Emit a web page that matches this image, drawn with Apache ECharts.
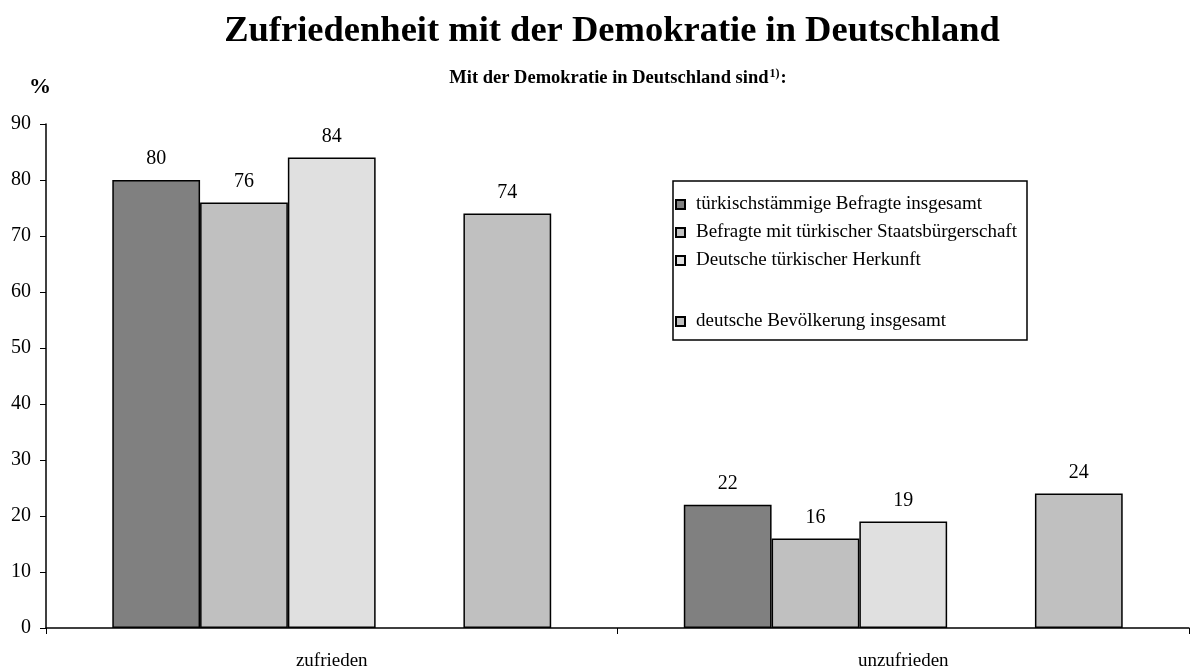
<!doctype html>
<html>
<head>
<meta charset="utf-8">
<title>Zufriedenheit mit der Demokratie</title>
<script src="https://cdn.jsdelivr.net/npm/echarts@6/dist/echarts.min.js"></script>
<style>
  html, body { margin: 0; padding: 0; background: #fff; }
  #main { width: 1191px; height: 668px; }
</style>
</head>
<body>
<div id="main"></div>
<script type="text/javascript">
// Daten
var categories = ['zufrieden', 'unzufrieden'];
var seriesNames = ['türkischstämmige Befragte insgesamt', 'Befragte mit türkischer Staatsbürgerschaft', 'Deutsche türkischer Herkunft', ' ', 'deutsche Bevölkerung insgesamt'];
var turkGesamt = [80, 22];
var turkStaat = [76, 16];
var deutschTurk = [84, 19];
var leer = ['-', '-'];
var deutschGesamt = [74, 24];
var yTicks = [0, 10, 20, 30, 40, 50, 60, 70, 80, 90];

var colors = ['#808080', '#c0c0c0', '#e0e0e0', '#ffffff', '#c0c0c0'];
var values = [turkGesamt, turkStaat, deutschTurk, leer, deutschGesamt];
var serif = '"Liberation Serif", "DejaVu Serif", serif';

var myChart = echarts.init(document.getElementById('main'));

var series = [];
for (var i = 0; i < values.length; i++) {
    series.push({
        name: seriesNames[i],
        type: 'bar',
        data: values[i],
        barGap: '0%',
        barCategoryGap: '23.2%',
        itemStyle: { color: colors[i], borderColor: '#000', borderWidth: 1.5 },
        label: {
            show: true,
            position: 'top',
            distance: 11,
            color: '#000',
            fontFamily: serif,
            fontSize: 20
        }
    });
}

var legendText = { fontFamily: serif, fontSize: 19, lineHeight: 16, color: '#000', padding: [0, 0, 0, 6] };

var option = {
    backgroundColor: '#fff',
    animation: false,
    title: [{
        text: 'Zufriedenheit mit der Demokratie in Deutschland',
        left: 607,
        textAlign: 'center',
        top: 8,
        textStyle: { fontFamily: serif, fontSize: 36.5, fontWeight: 'bold', color: '#000' }
    }, {
        text: 'Mit der Demokratie in Deutschland sind{sup|1)}:',
        left: 613,
        textAlign: 'center',
        top: 63,
        textStyle: {
            fontFamily: serif, fontSize: 18.5, fontWeight: 'bold', color: '#000',
            rich: { sup: { fontFamily: serif, fontSize: 12, fontWeight: 'bold', color: '#000', verticalAlign: 'top', padding: [0, 1, 9, 1] } }
        }
    }],
    legend: [{
        data: seriesNames.slice(0, 3),
        orient: 'vertical',
        left: 670,
        top: 190,
        itemGap: 9,
        itemWidth: 9,
        itemHeight: 9,
        icon: 'rect',
        textStyle: legendText
    }, {
        data: seriesNames.slice(4),
        orient: 'vertical',
        left: 670,
        top: 307,
        itemWidth: 9,
        itemHeight: 9,
        icon: 'rect',
        textStyle: legendText
    }],
    graphic: [{
        type: 'rect',
        shape: { x: 673, y: 181, width: 354, height: 159 },
        style: { fill: 'none', stroke: '#000', lineWidth: 1.5 },
        silent: true
    }],
    grid: { left: 46, right: 2, top: 124, bottom: 40, containLabel: false, outerBoundsMode: 'none' },
    xAxis: {
        type: 'category',
        data: categories,
        axisLine: { lineStyle: { color: '#000', width: 1.5 } },
        axisTick: { show: true, length: 6, lineStyle: { color: '#000' } },
        axisLabel: { fontFamily: serif, fontSize: 19, color: '#000', margin: 24 }
    },
    yAxis: {
        type: 'value',
        min: yTicks[0],
        max: yTicks[yTicks.length - 1],
        interval: 10,
        name: '%',
        nameLocation: 'end',
        nameGap: 26,
        nameTextStyle: { fontFamily: serif, fontSize: 22, fontWeight: 'bold', color: '#000', align: 'center', padding: [0, 12, 0, 0] },
        splitLine: { show: false },
        axisLine: { show: true, lineStyle: { color: '#000', width: 1.5 } },
        axisTick: { show: true, inside: false, length: 6, lineStyle: { color: '#000' } },
        axisLabel: { fontFamily: serif, fontSize: 20, color: '#000', margin: 15 }
    },
    series: series
};

myChart.setOption(option);
</script>
</body>
</html>
